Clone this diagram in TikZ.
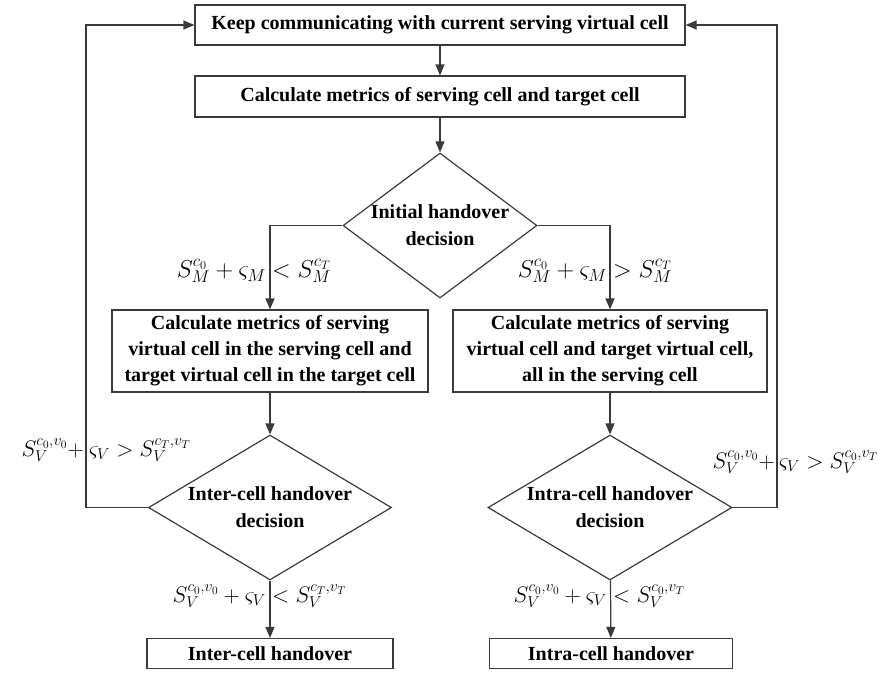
\RequirePackage{fix-cm}
\documentclass[tikz,border=0pt]{standalone}
\usepackage{fontspec}
\setmainfont{Liberation Serif}
\usetikzlibrary{arrows.meta,shapes.geometric}
\definecolor{linec}{HTML}{3A3A3A}
\begin{document}
\begin{tikzpicture}[x=1pt,y=-1pt,
  line/.style={draw=linec, line width=1.2pt},
  arr/.style={line, -{Triangle[length=11pt,width=9pt]}},
  box/.style={draw=linec, line width=1.2pt, rectangle, inner sep=0pt, align=center,
    font=\fontsize{20}{26}\selectfont\bfseries},
  dia/.style={draw=linec, line width=1.2pt, diamond, inner sep=0pt},
  dtext/.style={align=center, inner sep=0pt, font=\fontsize{20}{27}\selectfont\bfseries},
  condm/.style={inner sep=0pt, font=\fontsize{24.5}{28}\selectfont},
  condv/.style={inner sep=0pt, font=\fontsize{22.5}{26}\selectfont}
]
\useasboundingbox (0,0) rectangle (878,673);

\node[box, minimum width=490pt, minimum height=40pt] (b1) at (440,25) {Keep communicating with current serving virtual cell};
\node[box, minimum width=490pt, minimum height=41pt] (b2) at (440,96.5) {Calculate metrics of serving cell and target cell};

\node[dia, minimum width=194pt, minimum height=145pt] (d1) at (440,225.5) {};
\node[dtext] (d1t) at (d1.center) {Initial handover\\decision};

\node[box, minimum width=316pt, minimum height=82pt] (b3) at (270,351) {Calculate metrics of serving\\virtual cell in the serving cell and\\target virtual cell in the target cell};
\node[box, minimum width=314pt, minimum height=82pt] (b4) at (610,351) {Calculate metrics of serving\\virtual cell and target virtual cell,\\all in the serving cell};

\node[dia, minimum width=243pt, minimum height=145pt] (d2) at (270,507.5) {};
\node[dtext] (d2t) at (d2.center) {Inter-cell handover\\decision};
\node[dia, minimum width=244pt, minimum height=145pt] (d3) at (610,507.5) {};
\node[dtext] (d3t) at (d3.center) {Intra-cell handover\\decision};

\node[box, minimum width=246pt, minimum height=30pt] (b5) at (270,653.5) {Inter-cell handover};
\node[box, minimum width=243pt, minimum height=30pt] (b6) at (611,653.5) {Intra-cell handover};

\coordinate (lx) at (86,0);
\coordinate (rx) at (777,0);

\draw[arr] (b1) -- (b2);
\draw[arr] (b2) -- (d1);
\draw[arr] (d1.west) -| (b3.north);
\draw[arr] (d1.east) -| (b4.north);
\draw[arr] (b3) -- (d2);
\draw[arr] (b4) -- (d3);
\draw[arr] (d2) -- (b5);
\draw[arr] (d3) -- (b6);
\draw[arr] (d2.west) -- (d2.west -| lx) |- (b1.west);
\draw[arr] (d3.east) -- (d3.east -| rx) |- (b1.east);

% condition labels, split where the connector crosses them
\node[condm, anchor=east] (c1a) at (266,271) {$S_M^{c_0}+\varsigma_M$};
\node[condm, anchor=west] (c1b) at (272,271) {$<S_M^{c_T}$};
\node[condm, anchor=east] (c2a) at (607,271) {$S_M^{c_0}+\varsigma_M$};
\node[condm, anchor=west] (c2b) at (613,271) {$>S_M^{c_T}$};
\node[condv, anchor=east] (c3a) at (84,450) {$S_V^{c_0,v_0}+$};
\node[condv, anchor=west] (c3b) at (89,450) {$\varsigma_V>S_V^{c_T,v_T}$};
\node[condv, anchor=east] (c4a) at (775,462) {$S_V^{c_0,v_0}+$};
\node[condv, anchor=west] (c4b) at (779,462) {$\varsigma_V>S_V^{c_0,v_T}$};
\node[condv, anchor=east] (c5a) at (266,596) {$S_V^{c_0,v_0}+\varsigma_V$};
\node[condv, anchor=west] (c5b) at (272,596) {$<S_V^{c_T,v_T}$};
\node[condv, anchor=east] (c6a) at (607,596) {$S_V^{c_0,v_0}+\varsigma_V$};
\node[condv, anchor=west] (c6b) at (613,596) {$<S_V^{c_0,v_T}$};
\end{tikzpicture}
\end{document}
